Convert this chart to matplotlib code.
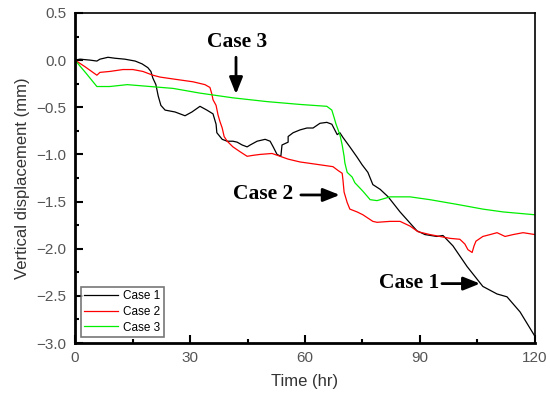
import matplotlib
matplotlib.use("Agg")
import matplotlib.pyplot as plt
from matplotlib.ticker import MultipleLocator

plt.rcParams["font.family"] = ["Liberation Sans", "DejaVu Sans"]

# Case 1 (black)
t1 = [0, 1.3, 3.9, 5.7, 6.5, 8.6, 10.4, 13.0, 15.7, 17.5, 19.0, 19.8, 20.3, 21.1, 21.7,
      22.4, 23.5, 26.1, 28.7, 30.5, 32.6, 34.4, 36.0, 36.8, 37.0, 38.4, 39.7, 41.2, 42.3,
      43.6, 44.9, 45.7, 47.5, 49.6, 50.9, 51.7, 52.7, 53.7, 54.0, 55.6, 55.6, 56.9, 58.7,
      60.5, 62.1, 63.9, 65.7, 67.0, 68.4, 69.1, 69.9, 71.7, 73.6, 74.9, 76.4, 77.7, 79.6,
      81.7, 84.8, 89.2, 91.3, 94.4, 96.0, 98.6, 102.3, 106.4, 110.1, 112.7, 116.1, 120]
d1 = [0.0, 0.01, 0.0, -0.01, 0.01, 0.03, 0.02, 0.01, -0.01, -0.04, -0.08, -0.12, -0.19, -0.26, -0.38,
      -0.48, -0.53, -0.55, -0.59, -0.55, -0.49, -0.53, -0.57, -0.68, -0.77, -0.84, -0.86, -0.86, -0.87,
      -0.90, -0.92, -0.90, -0.86, -0.84, -0.86, -0.92, -1.00, -1.02, -0.90, -0.87, -0.81, -0.77, -0.74,
      -0.72, -0.72, -0.67, -0.66, -0.68, -0.79, -0.77, -0.82, -0.92, -1.03, -1.11, -1.19, -1.32, -1.37,
      -1.45, -1.61, -1.81, -1.85, -1.87, -1.86, -1.97, -2.19, -2.40, -2.48, -2.51, -2.67, -2.93]

# Case 2 (red)
t2 = [0, 2.6, 5.7, 6.5, 9.1, 12.5, 15.1, 17.7, 20.3, 22.2, 25.6, 30.8, 33.9, 35.2, 35.7, 36.0,
      36.8, 37.3, 37.8, 38.4, 38.9, 39.7, 41.2, 43.0, 44.9, 46.4, 48.3, 51.4, 53.5, 55.6, 58.7,
      63.9, 67.3, 68.6, 69.7, 69.9, 70.2, 71.0, 71.7, 73.6, 75.1, 77.7, 78.8, 82.2, 84.8, 87.4,
      89.5, 92.6, 95.2, 97.8, 100.4, 101.7, 102.5, 103.6, 104.1, 104.6, 106.4, 108.3, 110.1,
      112.2, 114.3, 116.9, 120]
d2 = [0.0, -0.07, -0.16, -0.13, -0.12, -0.10, -0.10, -0.12, -0.16, -0.18, -0.20, -0.23, -0.26, -0.29, -0.36, -0.42,
      -0.48, -0.58, -0.65, -0.72, -0.81, -0.86, -0.92, -0.97, -1.02, -1.01, -1.00, -0.99, -1.02, -1.05, -1.08,
      -1.11, -1.13, -1.17, -1.20, -1.27, -1.40, -1.51, -1.58, -1.61, -1.64, -1.71, -1.72, -1.71, -1.71, -1.76,
      -1.82, -1.85, -1.87, -1.89, -1.90, -1.95, -2.01, -2.04, -1.97, -1.92, -1.87, -1.85, -1.83,
      -1.87, -1.85, -1.83, -1.85]

# Case 3 (green)
t3 = [0, 2.9, 5.7, 9.1, 13.6, 19.6, 25.6, 32.6, 41.2, 50.1, 58.7, 65.7, 67.0, 67.6, 68.1, 69.1,
      69.7, 70.2, 70.4, 71.0, 72.3, 73.0, 75.1, 77.0, 78.8, 82.2, 87.4, 92.6, 99.7, 106.4, 111.7, 120]
d3 = [0.0, -0.14, -0.28, -0.28, -0.26, -0.28, -0.30, -0.35, -0.40, -0.44, -0.47, -0.49, -0.53, -0.61, -0.68, -0.79,
      -0.90, -1.02, -1.09, -1.19, -1.24, -1.30, -1.39, -1.48, -1.49, -1.45, -1.45, -1.48, -1.53, -1.58, -1.61, -1.64]

labels = ["Case 1", "Case 2", "Case 3"]
colors = ["black", "red", "#00ee00"]

tick_gray = "#555555"

fig = plt.figure(figsize=(5.5, 3.93), dpi=100)
ax = fig.add_axes([0.1364, 0.1272, 0.8363, 0.8398])

for t, d, lab, c in zip([t1, t2, t3], [d1, d2, d3], labels, colors):
    ax.plot(t, d, color=c, linewidth=0.9, label=lab)

ax.set_xlim(0, 120)
ax.set_ylim(-3.0, 0.5)
ax.xaxis.set_major_locator(MultipleLocator(30))
ax.xaxis.set_minor_locator(MultipleLocator(15))
ax.yaxis.set_major_locator(MultipleLocator(0.5))
ax.yaxis.set_minor_locator(MultipleLocator(0.25))
ax.tick_params(which="both", direction="in", top=False, right=False,
               labelsize=11, labelcolor=tick_gray, width=1.5)
ax.tick_params(which="major", length=6, pad=6)
ax.tick_params(which="minor", length=3)
ax.set_yticklabels([f"{v:.1f}".replace("-", "\u2212") for v in ax.get_yticks()])

ax.spines["left"].set_linewidth(2)
ax.spines["bottom"].set_linewidth(2)
ax.spines["top"].set_linewidth(1.2)
ax.spines["right"].set_linewidth(1.2)

ax.set_xlabel("Time (hr)", fontsize=12, color="#333333", labelpad=6)
ax.set_ylabel("Vertical displacement (mm)", fontsize=12, color="#333333", labelpad=5)

leg = ax.legend(loc="lower left", prop={"size": 8.5}, frameon=True, fancybox=False,
                edgecolor="#555555", handlelength=2.8, handletextpad=0.5, borderpad=0.3,
                labelspacing=0.3, borderaxespad=0.5)
leg.get_frame().set_linewidth(1.2)

serif = "Liberation Serif"
arrow = dict(arrowstyle="-|>,head_length=1.0,head_width=0.4", color="black", lw=2)
ax.text(42.3, 0.19, "Case 3", fontsize=15.5, fontweight="bold", family=serif,
        ha="center", va="center")
ax.annotate("", xy=(42, -0.39), xytext=(42, 0.06), arrowprops=arrow)
ax.text(49.0, -1.42, "Case 2", fontsize=15.5, fontweight="bold", family=serif,
        ha="center", va="center")
ax.annotate("", xy=(69.8, -1.43), xytext=(58.2, -1.43), arrowprops=arrow)
ax.text(87.2, -2.36, "Case 1", fontsize=15.5, fontweight="bold", family=serif,
        ha="center", va="center")
ax.annotate("", xy=(106.4, -2.37), xytext=(95.0, -2.37), arrowprops=arrow)

fig.savefig("out.png", dpi=100)
